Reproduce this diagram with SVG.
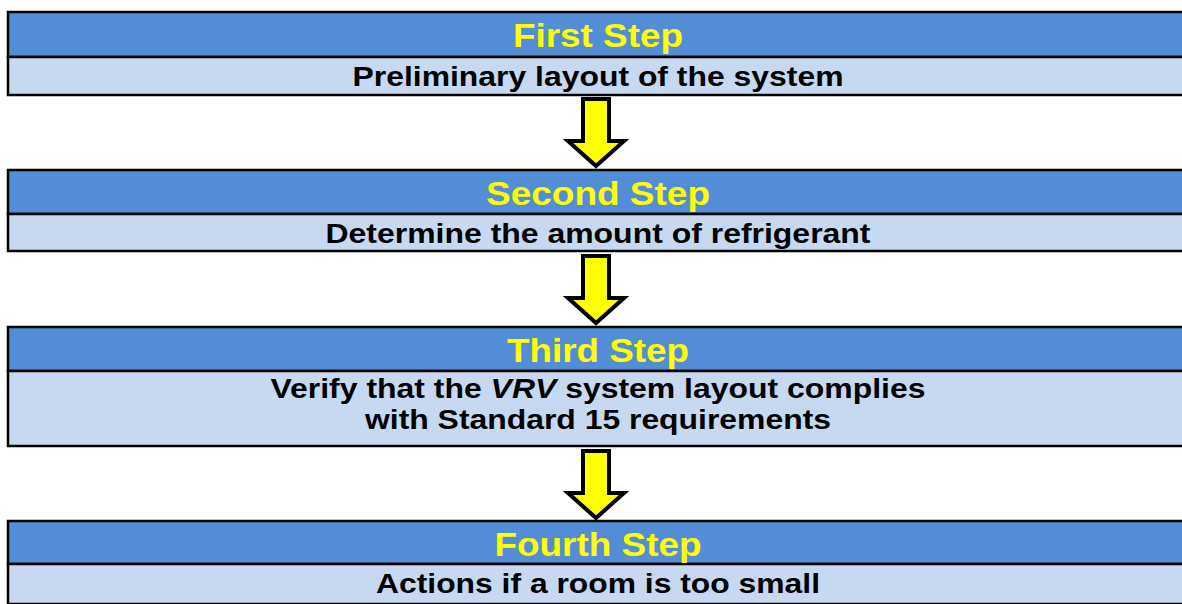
<svg xmlns="http://www.w3.org/2000/svg" width="1182" height="604" viewBox="0 0 1182 604">
<style>
.hd{fill:#538DD5;stroke:#000;stroke-width:2.5}
.bd{fill:#C6D9F1;stroke:#000;stroke-width:2.5}
.ht{font-family:"Liberation Sans",Arial,sans-serif;font-weight:bold;font-size:34px;fill:#FFFF00;text-anchor:middle}
.bt{font-family:"Liberation Sans",Arial,sans-serif;font-weight:bold;font-size:28.5px;fill:#000;text-anchor:middle}
.arr{fill:#FFFF00;stroke:#000;stroke-width:4;stroke-linejoin:miter;stroke-miterlimit:10}
</style>
<defs>
<path id="arrow" class="arr" d="M583,99 L609,99 L609,141 L624,141 L596,166 L568,141 L583,141 Z"/>
</defs>
<rect width="1182" height="604" fill="#fff"/>
<g id="step1">
<rect class="hd" x="8" y="12" width="1180" height="45"/>
<rect class="bd" x="8" y="57" width="1180" height="38"/>
<text class="ht" x="598" y="47" textLength="170" lengthAdjust="spacingAndGlyphs">First Step</text>
<text class="bt" x="598" y="86" textLength="491" lengthAdjust="spacingAndGlyphs">Preliminary layout of the system</text>
</g>
<g id="step2">
<rect class="hd" x="8" y="170" width="1180" height="44"/>
<rect class="bd" x="8" y="214" width="1180" height="37"/>
<text class="ht" x="598" y="205" textLength="224" lengthAdjust="spacingAndGlyphs">Second Step</text>
<text class="bt" x="598" y="243" textLength="545" lengthAdjust="spacingAndGlyphs">Determine the amount of refrigerant</text>
</g>
<g id="step3">
<rect class="hd" x="8" y="327" width="1180" height="44"/>
<rect class="bd" x="8" y="371" width="1180" height="75"/>
<text class="ht" x="598" y="362" textLength="182" lengthAdjust="spacingAndGlyphs">Third Step</text>
<text class="bt" x="598" y="398" textLength="655" lengthAdjust="spacingAndGlyphs">Verify that the <tspan font-style="italic">VRV</tspan> system layout complies</text>
<text class="bt" x="598" y="429" textLength="466" lengthAdjust="spacingAndGlyphs">with Standard 15 requirements</text>
</g>
<g id="step4">
<rect class="hd" x="8" y="521" width="1180" height="43"/>
<rect class="bd" x="8" y="564" width="1180" height="40"/>
<text class="ht" x="598" y="556" textLength="207" lengthAdjust="spacingAndGlyphs">Fourth Step</text>
<text class="bt" x="598" y="593" textLength="444" lengthAdjust="spacingAndGlyphs">Actions if a room is too small</text>
</g>
<g id="connectors">
<use href="#arrow"/>
<use href="#arrow" transform="translate(0,157)"/>
<use href="#arrow" transform="translate(0,352)"/>
</g>
</svg>
